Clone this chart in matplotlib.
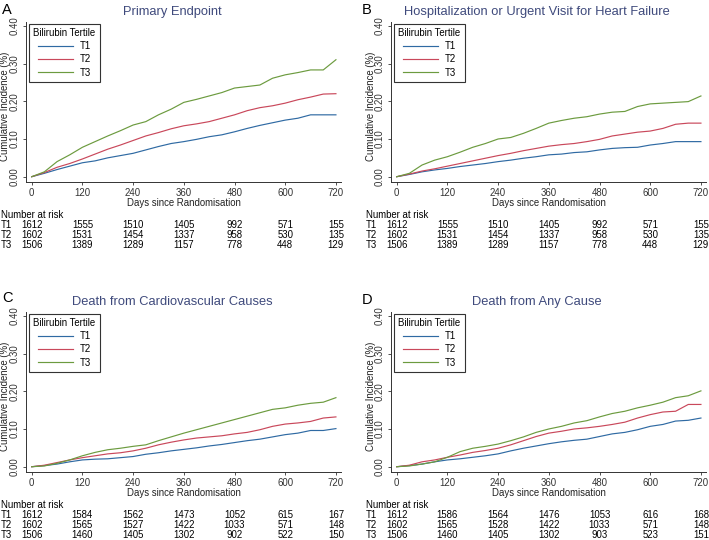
import matplotlib.pyplot as plt
from matplotlib.transforms import blended_transform_factory

plt.rcParams['font.family'] = ['Liberation Sans', 'DejaVu Sans']

W, H = 709, 540

DAYS = list(range(0, 721, 30))
XTICKS = [0, 120, 240, 360, 480, 600, 720]
YTICKS = [0.0, 0.1, 0.2, 0.3, 0.4]
GROUPS = ['T1', 'T2', 'T3']
COLORS = ['#2f6aa3', '#c9485b', '#6c9b3f']
TITLE_COLOR = '#3f4a7c'

LETTERS = ['A', 'B', 'C', 'D']
TITLES = [
    'Primary Endpoint',
    'Hospitalization or Urgent Visit for Heart Failure',
    'Death from Cardiovascular Causes',
    'Death from Any Cause',
]

A_T1 = [0, .009, .019, .028, .037, .042, .050, .056, .062, .071, .080, .088, .093,
        .099, .106, .111, .119, .128, .136, .143, .150, .155, .164, .164, .164]
A_T2 = [0, .011, .025, .035, .047, .060, .073, .084, .096, .108, .117, .127, .135,
        .140, .146, .155, .164, .175, .183, .188, .195, .204, .211, .219, .220]
A_T3 = [0, .013, .040, .058, .078, .093, .108, .122, .137, .146, .164, .179, .197,
        .205, .214, .223, .235, .239, .243, .261, .270, .276, .283, .283, .310]

B_T1 = [0, .006, .013, .018, .022, .027, .031, .035, .040, .044, .049, .053, .058,
        .060, .064, .066, .071, .075, .077, .078, .084, .088, .093, .093, .093]
B_T2 = [0, .007, .015, .021, .028, .035, .042, .049, .056, .062, .069, .075, .081,
        .085, .088, .093, .099, .108, .113, .118, .121, .128, .139, .142, .142]
B_T3 = [0, .009, .031, .044, .053, .065, .078, .088, .100, .104, .115, .128, .142,
        .149, .155, .159, .166, .171, .173, .186, .193, .195, .197, .199, .214]

C_T1 = [0, .003, .007, .013, .018, .020, .021, .024, .027, .033, .037, .042, .046,
        .050, .055, .059, .064, .069, .073, .079, .085, .089, .096, .096, .101]
C_T2 = [0, .004, .011, .018, .024, .029, .034, .037, .042, .049, .058, .065, .071,
        .076, .079, .082, .087, .091, .098, .107, .113, .116, .120, .129, .132]
C_T3 = [0, .002, .009, .018, .029, .038, .045, .049, .054, .058, .069, .079, .089,
        .098, .107, .116, .125, .134, .143, .152, .156, .163, .168, .171, .183]

D_T1 = [0, .003, .007, .013, .018, .021, .025, .029, .034, .042, .049, .055, .061,
        .066, .070, .073, .080, .087, .091, .098, .107, .112, .121, .123, .129]
D_T2 = [0, .004, .013, .018, .025, .031, .038, .043, .049, .058, .069, .080, .089,
        .094, .100, .103, .107, .112, .118, .129, .138, .145, .147, .165, .165]
D_T3 = [0, .002, .007, .013, .025, .040, .049, .054, .060, .069, .079, .091, .100,
        .107, .116, .122, .132, .141, .147, .156, .163, .171, .183, .188, .201]

# number at risk at each x tick
RISK_A_T1 = [1612, 1555, 1510, 1405, 992, 571, 155]
RISK_A_T2 = [1602, 1531, 1454, 1337, 958, 530, 135]
RISK_A_T3 = [1506, 1389, 1289, 1157, 778, 448, 129]
RISK_B_T1 = [1612, 1555, 1510, 1405, 992, 571, 155]
RISK_B_T2 = [1602, 1531, 1454, 1337, 958, 530, 135]
RISK_B_T3 = [1506, 1389, 1289, 1157, 778, 448, 129]
RISK_C_T1 = [1612, 1584, 1562, 1473, 1052, 615, 167]
RISK_C_T2 = [1602, 1565, 1527, 1422, 1033, 571, 148]
RISK_C_T3 = [1506, 1460, 1405, 1302, 902, 522, 150]
RISK_D_T1 = [1612, 1586, 1564, 1476, 1053, 616, 168]
RISK_D_T2 = [1602, 1565, 1528, 1422, 1033, 571, 148]
RISK_D_T3 = [1506, 1460, 1405, 1302, 903, 523, 151]

CURVES = [[A_T1, A_T2, A_T3], [B_T1, B_T2, B_T3], [C_T1, C_T2, C_T3], [D_T1, D_T2, D_T3]]
RISKS = [[RISK_A_T1, RISK_A_T2, RISK_A_T3], [RISK_B_T1, RISK_B_T2, RISK_B_T3],
         [RISK_C_T1, RISK_C_T2, RISK_C_T3], [RISK_D_T1, RISK_D_T2, RISK_D_T3]]

# panel geometry in pixels: left spine, top
AX_LEFT = [26, 391, 26, 391]
AX_TOP = [22, 22, 312, 312]
AX_W, AX_H = 315, 160
TITLE_X = [172, 537, 172, 537]
TITLE_Y = [12, 12, 302, 302]
LETTER_X = [2, 362, 2, 362]
LETTER_Y = [10, 10, 298, 300]

FS = 6.9


def fx(x):
    return x / W


def fy(y):
    return 1 - y / H


fig = plt.figure(figsize=(W / 100, H / 100), dpi=100)

for i in range(4):
    ax = fig.add_axes([fx(AX_LEFT[i]), fy(AX_TOP[i] + AX_H), AX_W / W, AX_H / H])
    for g, vals, col in zip(GROUPS, CURVES[i], COLORS):
        ax.plot(DAYS, vals, color=col, lw=0.85, label=g)

    ax.set_xlim(-13.5, 732)
    ax.set_ylim(-0.014, 0.41)
    ax.set_xticks(XTICKS)
    ax.set_yticks(YTICKS)
    ax.set_yticklabels([f'{v:.2f}' for v in YTICKS], rotation=90, va='center')
    ax.tick_params(labelsize=FS, length=2.5, width=0.6, pad=2, colors='#333333')
    for s in ['top', 'right']:
        ax.spines[s].set_visible(False)
    for s in ['left', 'bottom']:
        ax.spines[s].set_linewidth(0.7)
        ax.spines[s].set_color('#333333')

    ax.set_xlabel('Days since Randomisation', fontsize=FS, va='center', color='#222222')
    ax.xaxis.set_label_coords(0.5, -0.132)
    ax.set_ylabel('Cumulative Incidence (%)', fontsize=FS, va='center', color='#222222')
    ax.yaxis.set_label_coords(-20.5 / AX_W, 0.47)

    leg = ax.legend(title='Bilirubin Tertile', loc='upper left',
                    bbox_to_anchor=(3 / AX_W, 1 - 2 / AX_H), fontsize=FS,
                    title_fontsize=FS, fancybox=False, edgecolor='#333333',
                    framealpha=1, handlelength=3.6, handletextpad=0.7,
                    labelspacing=0.32, borderpad=0.45, borderaxespad=0)
    leg.get_frame().set_linewidth(0.8)

    # number at risk table
    tr = blended_transform_factory(ax.transData, ax.transAxes)
    lab_x = -25 / AX_W
    ax.text(lab_x, -32.5 / AX_H, 'Number at risk', transform=ax.transAxes,
            fontsize=FS, ha='left', va='center', clip_on=False)
    for r, (g, counts) in enumerate(zip(GROUPS, RISKS[i])):
        yy = -(42.5 + 10.5 * r) / AX_H
        ax.text(lab_x, yy, g, transform=ax.transAxes, fontsize=FS,
                ha='left', va='center', clip_on=False)
        for d, n in zip(XTICKS, counts):
            ax.text(d, yy, str(n), transform=tr, fontsize=FS,
                    ha='center', va='center', clip_on=False)

    fig.text(fx(TITLE_X[i]), fy(TITLE_Y[i]), TITLES[i], fontsize=9.3,
             color=TITLE_COLOR, ha='center', va='center')
    fig.text(fx(LETTER_X[i]), fy(LETTER_Y[i]), LETTERS[i], fontsize=10.5,
             ha='left', va='center')

fig.savefig('out.png', dpi=100, facecolor='white')
